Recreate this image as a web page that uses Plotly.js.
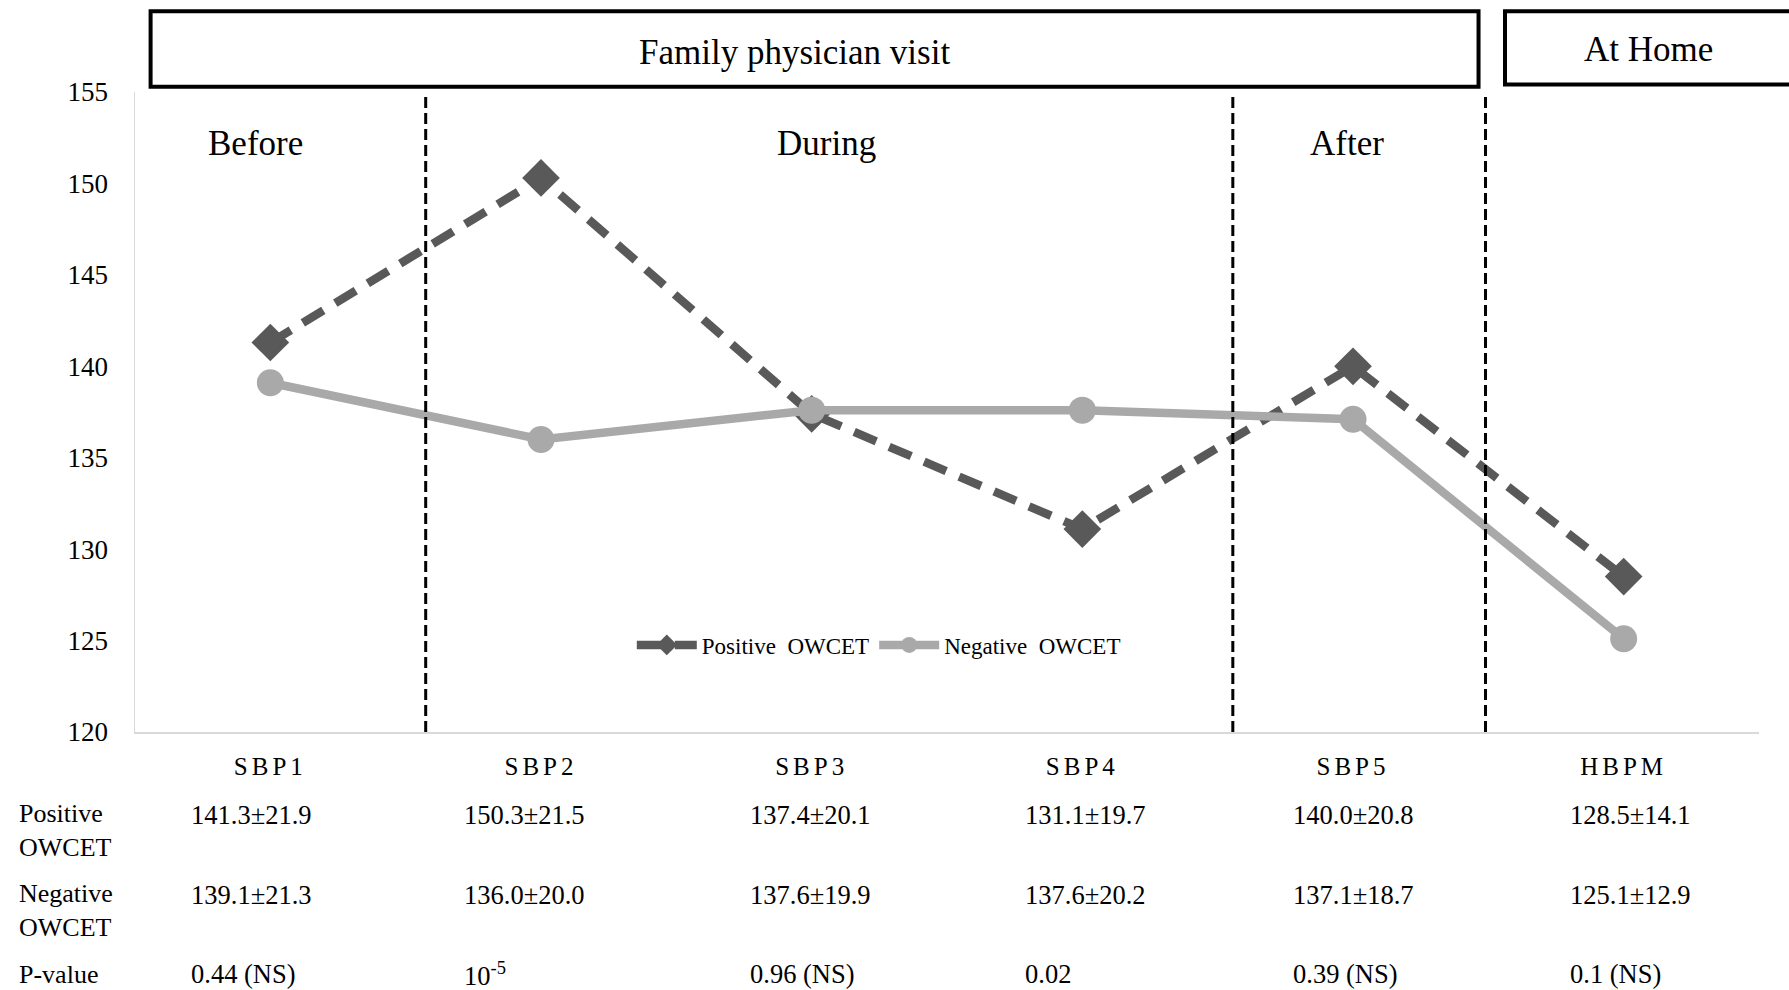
<!DOCTYPE html>
<html>
<head>
<meta charset="utf-8">
<script src="https://cdn.plot.ly/plotly-3.0.1.min.js"></script>
<style>
  html, body { margin: 0; padding: 0; background: #fff; }
  #chart { width: 1789px; height: 990px; }
  .xtick text { letter-spacing: 4px; }
</style>
</head>
<body>
<div id="chart"></div>
<script>
// ---- data ----
const categories = ['SBP1', 'SBP2', 'SBP3', 'SBP4', 'SBP5', 'HBPM'];
const positive = [141.3, 150.3, 137.4, 131.1, 140.0, 128.5];
const negative = [139.1, 136.0, 137.6, 137.6, 137.1, 125.1];
const positiveText = ['141.3±21.9', '150.3±21.5', '137.4±20.1', '131.1±19.7', '140.0±20.8', '128.5±14.1'];
const negativeText = ['139.1±21.3', '136.0±20.0', '137.6±19.9', '137.6±20.2', '137.1±18.7', '125.1±12.9'];
const pValues = ['0.44 (NS)', '10<sup>-5</sup>', '0.96 (NS)', '0.02', '0.39 (NS)', '0.1 (NS)'];
const rowLabels = ['Positive<br>OWCET', 'Negative<br>OWCET', 'P-value'];
const seriesNames = ['Positive  OWCET', 'Negative  OWCET'];
const phases = ['Before', 'During', 'After'];
const sections = ['Family physician visit', 'At Home'];
const yTicks = [120, 125, 130, 135, 140, 145, 150, 155];

// ---- styles / positions ----
const FONT = 'Liberation Serif, Times New Roman, serif';
const phaseX = [0.0743, 0.426, 0.746];
const phaseY = 0.919;
const dividerX = [0.179, 0.676, 0.8316];
const sectionBoxes = [[0.0096, 0.8273, 1.0083, 1.126], [0.8436, 1.11, 1.0119, 1.126]];
const sectionText = [[0.4064, 1.0617], [0.932, 1.067]];
const rowShift = [-82.6, -162.5, -242.4];
const rowLabelShift = [-98.6, -178.5, -242.4];
const colShift = [-81, -79, -64, -59, -62, -56];

const traces = [
  {
    x: categories, y: positive, name: seriesNames[0], type: 'scatter', mode: 'lines+markers',
    line: { color: '#595959', width: 8.5, dash: '24px,14px' },
    marker: { symbol: 'diamond', size: 29, color: '#595959' }
  },
  {
    x: categories, y: negative, name: seriesNames[1], type: 'scatter', mode: 'lines+markers',
    line: { color: '#a9a9a9', width: 8.5 },
    marker: { symbol: 'circle', size: 27, color: '#a9a9a9' }
  }
];

const shapes = [];
dividerX.forEach(x => shapes.push({
  type: 'line', xref: 'paper', yref: 'paper', x0: x, x1: x, y0: 0, y1: 1,
  line: { color: '#000', width: 3, dash: '11px,5px' }, layer: 'above'
}));
sectionBoxes.forEach(b => shapes.push({
  type: 'rect', xref: 'paper', yref: 'paper', x0: b[0], x1: b[1], y0: b[2], y1: b[3],
  line: { color: '#000', width: 4 }, fillcolor: 'rgba(0,0,0,0)'
}));

const annotations = [];
phases.forEach((t, i) => annotations.push({
  text: t, xref: 'paper', yref: 'paper', x: phaseX[i], y: phaseY,
  xanchor: 'center', yanchor: 'middle', showarrow: false,
  font: { family: FONT, size: 35, color: '#000' }
}));
sections.forEach((t, i) => annotations.push({
  text: t, xref: 'paper', yref: 'paper', x: sectionText[i][0], y: sectionText[i][1],
  xanchor: 'center', yanchor: 'middle', showarrow: false,
  font: { family: FONT, size: 35, color: '#000' }
}));
rowLabels.forEach((t, i) => annotations.push({
  text: t, xref: 'paper', yref: 'paper', x: -0.0727, y: 0, xanchor: 'left', yanchor: 'middle',
  yshift: rowLabelShift[i], align: 'left', showarrow: false,
  font: { family: FONT, size: 26, color: '#000' }
}));
[positiveText, negativeText, pValues].forEach((row, r) => row.forEach((t, i) => annotations.push({
  text: t, xref: 'x', yref: 'paper', x: categories[i], y: 0, xanchor: 'left', yanchor: 'middle',
  xshift: colShift[i], yshift: rowShift[r], showarrow: false,
  font: { family: FONT, size: 26.5, color: '#000' }
})));

const layout = {
  width: 1789, height: 990,
  margin: { l: 135, r: 30, t: 92, b: 258 },
  paper_bgcolor: '#fff', plot_bgcolor: '#fff',
  font: { family: FONT, color: '#000' },
  showlegend: true,
  legend: {
    orientation: 'h', x: 0.458, xanchor: 'center', y: 0.136, yanchor: 'middle',
    itemwidth: 60,
    font: { family: FONT, size: 23, color: '#000' }, bgcolor: 'rgba(0,0,0,0)'
  },
  xaxis: {
    type: 'category', range: [-0.5, 5.5], showgrid: false, zeroline: false,
    showline: true, linecolor: '#d9d9d9', linewidth: 1.5, ticks: '',
    tickfont: { family: FONT, size: 25, color: '#000' }, ticklabelstandoff: 11
  },
  yaxis: {
    range: [120, 155], tickvals: yTicks, showgrid: false, zeroline: false,
    showline: true, linecolor: '#d9d9d9', linewidth: 1.5, ticks: '',
    tickfont: { family: FONT, size: 27, color: '#000' }, ticklabelstandoff: 20
  },
  shapes: shapes,
  annotations: annotations
};

Plotly.newPlot('chart', traces, layout, { displayModeBar: false, staticPlot: true });
</script>
</body>
</html>
